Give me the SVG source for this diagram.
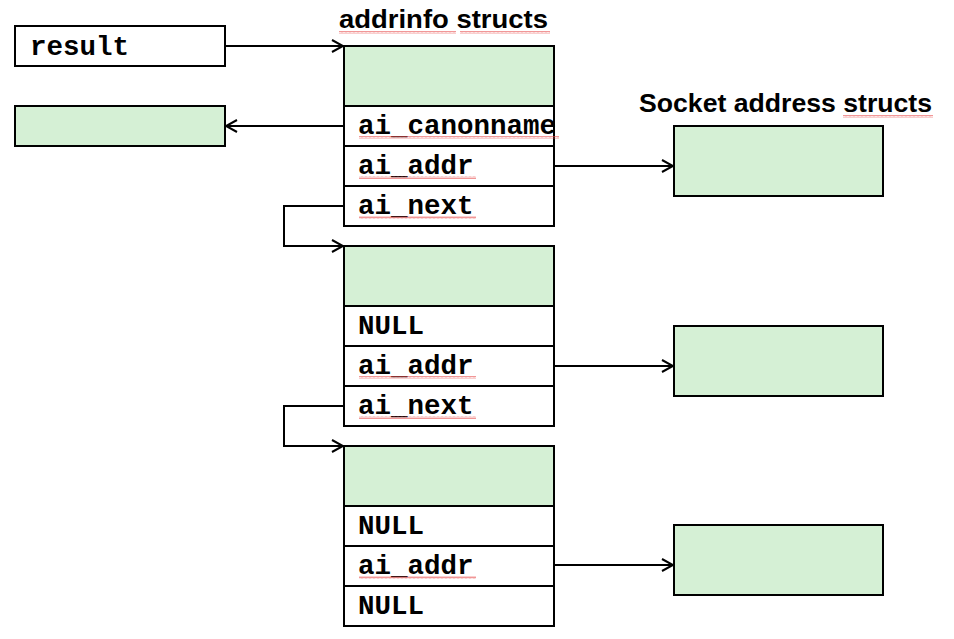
<svg xmlns="http://www.w3.org/2000/svg" width="954" height="639" viewBox="0 0 954 639">
<style>
.box{stroke:#000;stroke-width:2}
.g{fill:#d5f0d5}
.w{fill:#fff}
.code{font-family:"Liberation Mono","Courier New",monospace;font-weight:bold;font-size:27.5px;fill:#000}
.title{font-family:"Liberation Sans",Arial,sans-serif;font-weight:bold;font-size:26px;fill:#000}
.conn{fill:none;stroke:#000;stroke-width:2}
.sq{fill:url(#squig)}
</style>
<defs>
<marker id="arr" markerWidth="14" markerHeight="14" refX="12" refY="7" orient="auto" markerUnits="userSpaceOnUse">
<path d="M1,1 L12,7 L1,13" fill="none" stroke="#000" stroke-width="2"/>
</marker>
<pattern id="squig" width="4" height="3" patternUnits="userSpaceOnUse">
<path d="M0,2.5 L1,0.5 L2,2.5 L3,0.5 L4,2.5" fill="none" stroke="#e85050" stroke-width="0.6"/>
</pattern>
</defs>
<rect width="954" height="639" fill="#fff"/>

<text class="title" x="339" y="28" textLength="209" lengthAdjust="spacingAndGlyphs">addrinfo structs</text>
<text class="title" x="639" y="112" textLength="293" lengthAdjust="spacingAndGlyphs">Socket address structs</text>

<g id="result">
<rect class="box w" x="15" y="26" width="210" height="40"/>
<text class="code" x="30" y="55">result</text>
</g>
<g id="canonname">
<rect class="box g" x="15" y="106" width="210" height="40"/>
</g>

<g id="addrinfo1">
<rect class="box g" x="344" y="46" width="210" height="60"/>
<rect class="box w" x="344" y="106" width="210" height="40"/>
<rect class="box w" x="344" y="146" width="210" height="40"/>
<rect class="box w" x="344" y="186" width="210" height="40"/>
<text class="code" x="358" y="134">ai_canonname</text>
<text class="code" x="358" y="174">ai_addr</text>
<text class="code" x="358" y="214">ai_next</text>
</g>
<g id="addrinfo2">
<rect class="box g" x="344" y="246" width="210" height="60"/>
<rect class="box w" x="344" y="306" width="210" height="40"/>
<rect class="box w" x="344" y="346" width="210" height="40"/>
<rect class="box w" x="344" y="386" width="210" height="40"/>
<text class="code" x="358" y="334">NULL</text>
<text class="code" x="358" y="374">ai_addr</text>
<text class="code" x="358" y="414">ai_next</text>
</g>
<g id="addrinfo3">
<rect class="box g" x="344" y="446" width="210" height="60"/>
<rect class="box w" x="344" y="506" width="210" height="40"/>
<rect class="box w" x="344" y="546" width="210" height="40"/>
<rect class="box w" x="344" y="586" width="210" height="40"/>
<text class="code" x="358" y="534">NULL</text>
<text class="code" x="358" y="574">ai_addr</text>
<text class="code" x="358" y="614">NULL</text>
</g>

<g id="sockaddr1"><rect class="box g" x="674" y="126" width="209" height="70"/></g>
<g id="sockaddr2"><rect class="box g" x="674" y="326" width="209" height="70"/></g>
<g id="sockaddr3"><rect class="box g" x="674" y="525" width="209" height="70"/></g>

<g id="spellcheck">
<rect class="sq" x="339" y="31" width="117" height="3"/>
<rect class="sq" x="460" y="31" width="90" height="3"/>
<rect class="sq" x="843" y="115" width="90" height="3"/>
<rect class="sq" x="359" y="136" width="200" height="3"/>
<rect class="sq" x="359" y="176" width="117" height="3"/>
<rect class="sq" x="359" y="216" width="117" height="3"/>
<rect class="sq" x="359" y="376" width="117" height="3"/>
<rect class="sq" x="359" y="416" width="117" height="3"/>
<rect class="sq" x="359" y="576" width="117" height="3"/>
</g>

<g id="connectors">
<path class="conn" d="M225,46 H343" marker-end="url(#arr)"/>
<path class="conn" d="M344,126 H226" marker-end="url(#arr)"/>
<path class="conn" d="M554,166 H673" marker-end="url(#arr)"/>
<path class="conn" d="M554,366 H673" marker-end="url(#arr)"/>
<path class="conn" d="M554,565 H673" marker-end="url(#arr)"/>
<path class="conn" d="M344,206 H284 V246 H343" marker-end="url(#arr)"/>
<path class="conn" d="M344,406 H284 V446 H343" marker-end="url(#arr)"/>
</g>
</svg>
